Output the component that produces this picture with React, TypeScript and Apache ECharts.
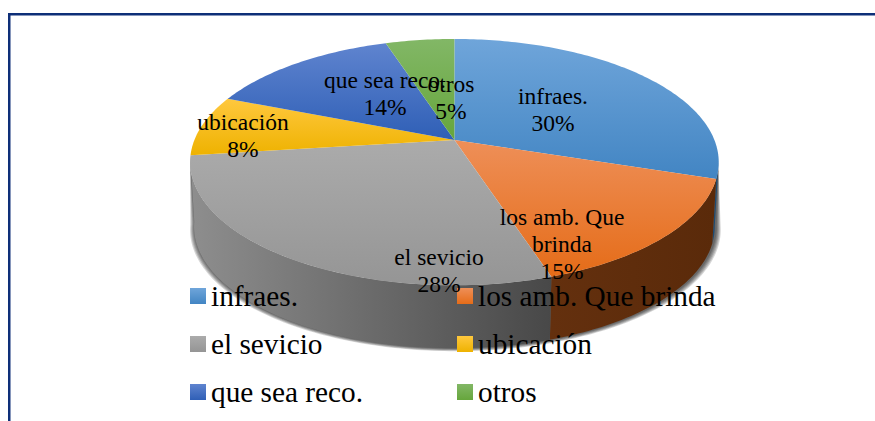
import React, { useEffect, useRef } from "react";
import * as echarts from "echarts";

const categories = ["infraes.", "los amb. Que brinda", "el sevicio", "ubicación", "que sea reco.", "otros"];
const percentages = [30, 15, 28, 8, 14, 5];
const dataLabels = ["infraes.\n30%", "los amb. Que\nbrinda\n15%", "el sevicio\n28%", "ubicación\n8%", "que sea reco.\n14%", "otros\n5%"];
const labelCenters = [[553, 109], [562, 244], [439, 270], [243, 135], [385, 93], [451, 97]];
const topColors = [
  ["#6fa5da", "#4285c3"], ["#ee8f58", "#e56c18"], ["#ababab", "#959595"],
  ["#ffc83e", "#eeb200"], ["#5f84cf", "#2f5fb6"], ["#82b766", "#66a63c"],
];
const wallColors = [["#1f4a70", "#1f4a70"], ["#64300e", "#5a2a0a"], ["#8e8e8e", "#484848"], ["#7a6000", "#7a6000"], ["#223f75", "#223f75"], ["#3d6325", "#3d6325"]];
const legendColumns = [[0, 2, 4], [1, 3, 5]];
const shadowLayers = [1, 2, 3, 4, 5];

const P = { cx: 454.4, cy: 140, a: 260, b: 119.2, k: 0.18, depth: 65, shrink: 0.985 };

function project(deg: number, lower: boolean, grow = 0): number[] {
  const r = (deg * Math.PI) / 180;
  const u = Math.sin(r);
  const v = -Math.cos(r);
  const w = 1 - P.k * v;
  const s = lower ? P.shrink : 1;
  return [
    P.cx + ((s * P.a * u) / w) * (1 + grow / 260) + (grow ? 1 : 0),
    P.cy + (lower ? P.depth : 0) + (s * P.b * v) / w + (lower ? grow * 0.6 : 0),
  ];
}

function arc(from: number, to: number, lower: boolean, grow = 0): number[][] {
  const pts: number[][] = [];
  const n = Math.max(2, Math.ceil(Math.abs(to - from)));
  for (let i = 0; i <= n; i++) pts.push(project(from + ((to - from) * i) / n, lower, grow));
  return pts;
}

const FRONT_START = 100;
const FRONT_END = 262;

function grad(c: string[], horizontal = false) {
  return new echarts.graphic.LinearGradient(0, 0, horizontal ? 1 : 0, horizontal ? 0 : 1, [
    { offset: 0, color: c[0] },
    { offset: 1, color: c[1] },
  ]);
}

const total = percentages.reduce((s, v) => s + v, 0);
let cumulative = 0;
const spans = percentages.map((v) => {
  const start = cumulative;
  cumulative += v;
  return [start, cumulative];
});

function sliceSeries(name: string, i: number) {
  return {
    type: "custom",
    name,
    coordinateSystem: "none",
    silent: true,
    data: [spans[i]],
    itemStyle: { color: topColors[i][1] },
    renderItem: (_: any, api: any) => {
      const s = (api.value(0) / total) * 360;
      const e = (api.value(1) / total) * 360;
      const children: any[] = [];
      if (i === 0) {
        shadowLayers.forEach((g) => {
          children.push({
            type: "polygon",
            z2: 0,
            shape: { points: [...arc(FRONT_START + 3, FRONT_END - 3, false), ...arc(FRONT_END, FRONT_START, true, g)] },
            style: { fill: "rgba(0,0,0,0.16)" },
          });
        });
      }
      const fs = Math.max(s, FRONT_START);
      const fe = Math.min(e, FRONT_END);
      if (fe > fs) {
        children.push({
          type: "polygon",
          z2: 1,
          shape: { points: [...arc(fs, fe, false), ...arc(fe, fs, true)] },
          style: { fill: grad(wallColors[i], true) },
        });
      }
      children.push({
        type: "polygon",
        z2: 2,
        shape: { points: [[P.cx, P.cy], ...arc(s, e, false)] },
        style: { fill: grad(topColors[i]) },
      });
      return { type: "group", children };
    },
  };
}

export default function App() {
  const ref = useRef<HTMLDivElement>(null);
  useEffect(() => {
    const chart = echarts.init(ref.current!, undefined, { renderer: "svg" });
    const legendText = { fontFamily: "Liberation Serif", fontSize: 29.3, color: "#000", lineHeight: 32 };
    chart.setOption({
      animation: false,
      backgroundColor: "#fff",
      series: categories.map(sliceSeries),
      legend: legendColumns.map((col, c) => ({
        orient: "vertical",
        left: c === 0 ? 190 : 457,
        top: 280,
        padding: 0,
        itemWidth: 16,
        itemHeight: 16,
        itemGap: 16,
        icon: "rect",
        selectedMode: false,
        textStyle: legendText,
        data: col.map((i) => ({ name: categories[i], itemStyle: { color: grad(topColors[i]) } })),
      })),
      graphic: [
        { type: "rect", z: 1, shape: { x: 8, y: 13, width: 867, height: 2.5 }, style: { fill: "#0e2f78" } },
        { type: "rect", z: 1, shape: { x: 8, y: 13, width: 2.5, height: 408 }, style: { fill: "#0e2f78" } },
        ...dataLabels.map((text, i) => ({
          type: "text",
          z: 10,
          x: labelCenters[i][0],
          y: labelCenters[i][1],
          style: {
            text,
            fill: "#000",
            fontFamily: "Liberation Serif",
            fontSize: 23.5,
            lineHeight: 27,
            align: "center",
            verticalAlign: "middle",
          },
        })),
      ],
    });
    return () => chart.dispose();
  }, []);
  return <div ref={ref} style={{ position: "fixed", left: 0, top: 0, width: 875, height: 421 }} />;
}
